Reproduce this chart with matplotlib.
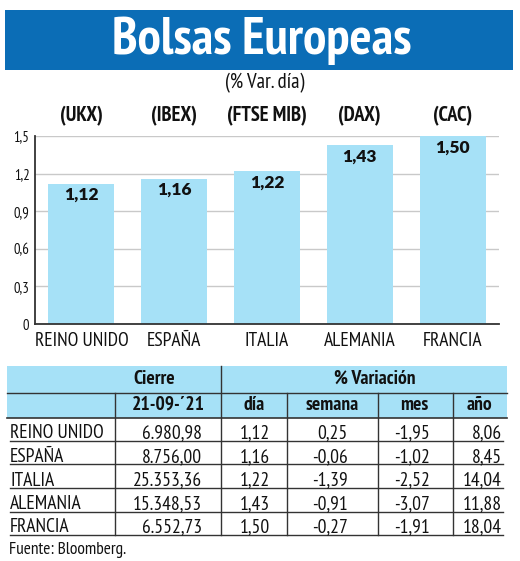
import matplotlib
matplotlib.use("Agg")
import matplotlib.pyplot as plt
from matplotlib import font_manager as fm
from matplotlib.patches import Rectangle
from matplotlib.transforms import blended_transform_factory

# ---------------- data ----------------
paises = ["REINO UNIDO", "ESPAÑA", "ITALIA", "ALEMANIA", "FRANCIA"]
indices = ["(UKX)", "(IBEX)", "(FTSE MIB)", "(DAX)", "(CAC)"]
var_dia = [1.12, 1.16, 1.22, 1.43, 1.50]
cierre = [6980.98, 8756.00, 25353.36, 15348.53, 6552.73]
var_semana = [0.25, -0.06, -1.39, -0.91, -0.27]
var_mes = [-1.95, -1.02, -2.52, -3.07, -1.91]
var_anio = [8.06, 8.45, 14.04, 11.88, 18.04]
yticks = [0, 0.3, 0.6, 0.9, 1.2, 1.5]
ytick_labels = ["0", "0,3", "0,6", "0,9", "1,2", "1,5"]

# ---------------- fonts ----------------
names = {f.name for f in fm.fontManager.ttflist}


def pick(cands):
    for c in cands:
        if c in names:
            return c
    return "DejaVu Sans"


NARROW = pick(["PT Sans Narrow", "Fira Sans Condensed", "Asap Condensed",
               "Archivo Narrow", "Barlow Semi Condensed", "Liberation Sans Narrow"])
VALFONT = pick(["Lato", "DejaVu Sans"])

BLUE = "#0b6db6"
LIGHT = "#a6e1f7"
DARK = "#333333"
INK = "#111111"


def fmt(v, d=2):
    s = f"{v:,.{d}f}"
    return s.replace(",", "X").replace(".", ",").replace("X", ".")


W, H = 520, 561
fig = plt.figure(figsize=(W / 100, H / 100), dpi=100)
fig.patch.set_facecolor("white")

# overlay axes in pixel coordinates
ov = fig.add_axes([0, 0, 1, 1])
ov.set_xlim(0, W)
ov.set_ylim(H, 0)
ov.axis("off")
ov.patch.set_visible(False)

# title banner
ov.add_patch(Rectangle((5, 10), 508, 60, color=BLUE, lw=0))
ov.text(262, 40.5, "Bolsas Europeas", color="white", fontsize=37.5, fontweight="bold",
        family=NARROW, ha="center", va="center")
ov.text(265, 83, "(% Var. día)", fontsize=15, family=NARROW, ha="center", va="center",
        color=INK)

# ---------------- bar chart ----------------
ax = fig.add_axes([35 / W, 1 - 324 / H, 464 / W, 188 / H])
ax.patch.set_visible(False)
x = list(range(len(paises)))
ax.bar(x, var_dia, width=0.71, color=LIGHT, zorder=2)
ax.set_xlim(-0.5, 4.5)
ax.set_ylim(0, 1.5)
ax.set_yticks(yticks)
ax.set_yticklabels(ytick_labels, family=NARROW, fontsize=10.5)
ax.set_xticks(x)
ax.set_xticklabels(paises, family=NARROW, fontsize=14)
ax.tick_params(axis="both", length=0, colors=INK)
ax.tick_params(axis="y", pad=4)
ax.tick_params(axis="x", pad=6)
ax.yaxis.grid(True, color="#c9c9c9", lw=1)
ax.set_axisbelow(True)
for s in ["top", "right"]:
    ax.spines[s].set_visible(False)
for s in ["left", "bottom"]:
    ax.spines[s].set_color(DARK)
    ax.spines[s].set_linewidth(1.3)

for xi, v in zip(x, var_dia):
    ax.text(xi, v - 0.028, fmt(v), ha="center", va="top", fontsize=12.5,
            fontweight="heavy", family=VALFONT, color=INK, zorder=3)

tr = blended_transform_factory(ax.transData, ax.transAxes)
for xi, lab in zip(x, indices):
    ax.text(xi, (324 - 116) / 188, lab, transform=tr, ha="center", va="center",
            fontsize=14.8, fontweight="bold", family=NARROW, color=INK)

# ---------------- table ----------------
ov.add_patch(Rectangle((7, 366), 500, 52, color=LIGHT, lw=0))
row_lines = [440.5, 464.3, 488, 511.6, 535]
ov.plot([7, 507], [393, 393], color=DARK, lw=1)
ov.plot([7, 507], [418, 418], color=DARK, lw=1.2)
for yl in row_lines:
    ov.plot([10, 503], [yl, yl], color=DARK, lw=1)
ov.plot([221, 221], [366, 535], color=DARK, lw=1)
for xv in [115, 287, 378, 453]:
    ov.plot([xv, xv], [393, 535], color=DARK, lw=1)

hdr = dict(fontsize=14, fontweight="bold", family=NARROW, ha="center", va="center",
           color=INK)
ov.text(154, 379, "Cierre", **hdr)
ov.text(375, 379, "% Variación", **hdr)
ov.text(168, 405, "21-09-´21", **hdr)
ov.text(254, 405, "día", **hdr)
ov.text(332, 405, "semana", **hdr)
ov.text(414, 405, "mes", **hdr)
ov.text(479, 405, "año", **hdr)

cell = dict(fontsize=14, family=NARROW, va="baseline", color=INK)
for i, yl in enumerate(row_lines):
    yb = yl - 2.5
    ov.text(10, yb, paises[i], ha="left", **cell)
    ov.text(202, yb, fmt(cierre[i]), ha="right", **cell)
    ov.text(270, yb, fmt(var_dia[i]), ha="right", **cell)
    ov.text(348, yb, fmt(var_semana[i]), ha="right", **cell)
    ov.text(430, yb, fmt(var_mes[i]), ha="right", **cell)
    ov.text(502, yb, fmt(var_anio[i]), ha="right", **cell)

ov.text(9, 550, "Fuente: Bloomberg.", fontsize=12.5, family=NARROW, ha="left",
        va="center", color=INK)

fig.savefig("out.png", dpi=100)
